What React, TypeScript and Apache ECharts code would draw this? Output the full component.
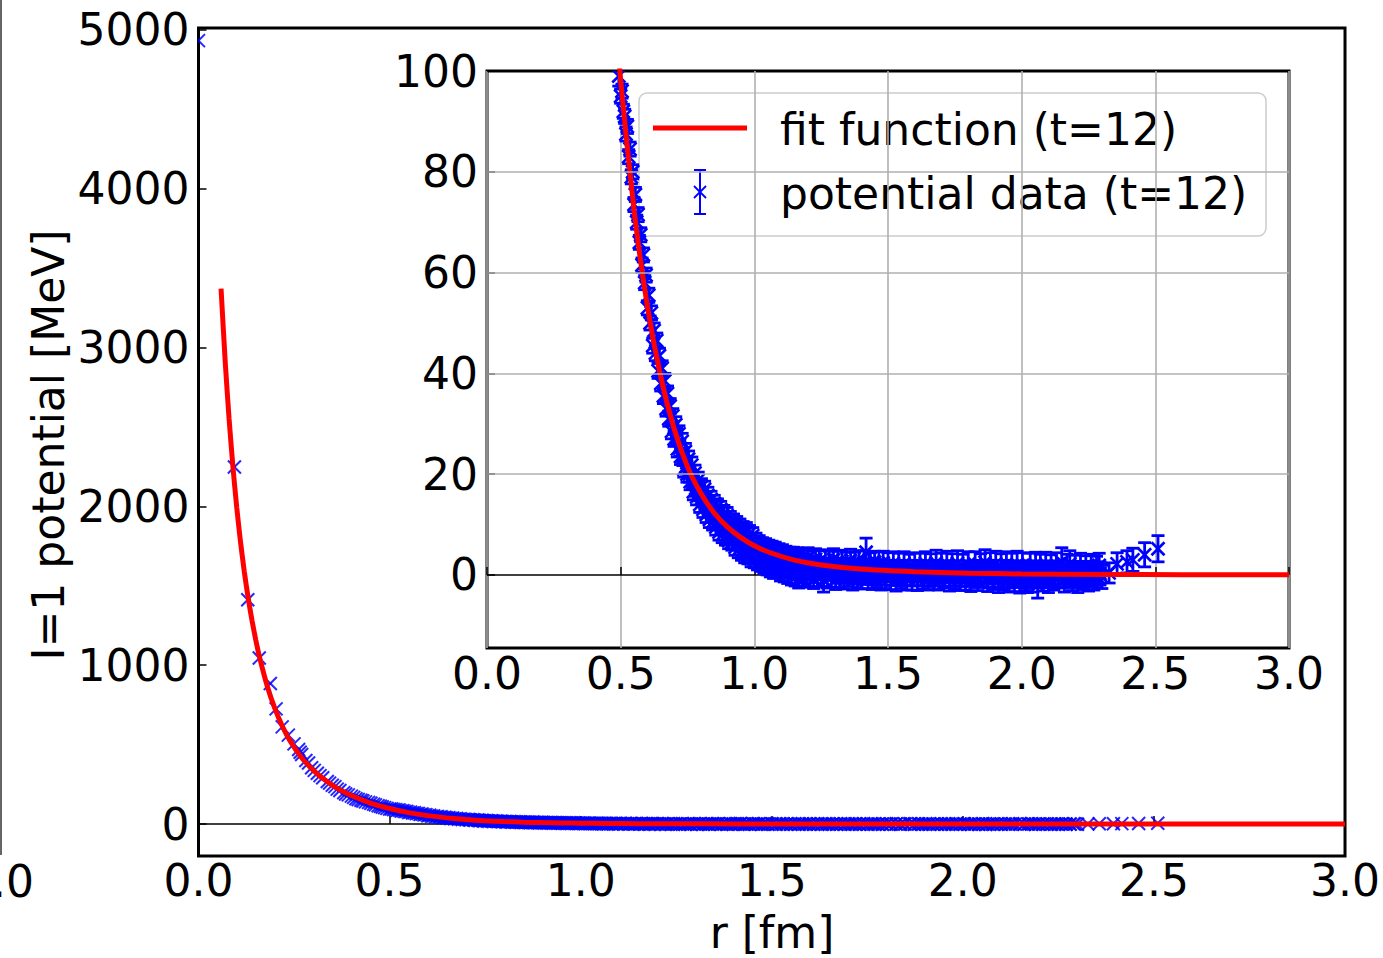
import React, { useEffect, useRef } from "react";
import * as echarts from "echarts";

// ---------- data ----------
// fit curve (r [fm], V [MeV])
const fitR = [0.059, 0.07, 0.08, 0.09, 0.1, 0.11, 0.12, 0.13, 0.14, 0.15, 0.16, 0.18, 0.2, 0.22, 0.24, 0.27, 0.3, 0.33, 0.36, 0.4, 0.45, 0.5, 0.55, 0.6, 0.65, 0.7, 0.75, 0.8, 0.85, 0.9, 0.95, 1.0, 1.06, 1.15, 1.25, 1.4, 1.6, 1.8, 2.0, 2.3, 2.6, 3.0];
const fitV = [3370, 2905, 2551, 2250, 1994, 1774, 1586, 1423, 1281, 1157, 1048, 868, 726, 613, 522, 418, 340, 279, 230, 179.5, 132.5, 98.1, 72.4, 53.3, 39.3, 29.0, 21.5, 16.2, 12.3, 9.5, 7.4, 5.8, 4.4, 2.95, 1.98, 1.16, 0.63, 0.35, 0.2, 0.1, 0.05, 0.02];

// potential data, short distances (mostly outside inset range)
const nearR = [0.0, 0.094, 0.129, 0.159, 0.188, 0.203, 0.219, 0.235, 0.25, 0.262, 0.266, 0.27, 0.281, 0.288, 0.296, 0.303, 0.311, 0.318, 0.325, 0.337, 0.343, 0.35, 0.357, 0.363, 0.37, 0.38, 0.385, 0.392, 0.4, 0.406, 0.412, 0.418, 0.425, 0.43, 0.437, 0.445, 0.451, 0.458, 0.463, 0.47, 0.476, 0.481, 0.487, 0.493];
const nearV = [4930, 2247, 1412, 1045, 885, 725, 612, 560, 505, 470, 452, 438, 400, 385, 355, 338, 320, 305, 292, 268, 258, 245, 236, 220, 212, 198, 190, 184, 176, 168, 160, 155, 150, 145, 140, 137, 131, 126, 121, 116, 112, 108, 104, 99];
const nearE = [20, 15, 10, 8, 6, 6, 5, 5, 4, 4, 4, 4, 3, 3, 3, 3, 3, 3, 3, 3, 3, 3, 3, 2, 2, 2, 2, 2, 2, 2, 2, 2, 2, 2, 2, 2, 2, 2, 2, 2, 2, 2, 2, 2];

// potential data, steep part 0.5 - 1.0 fm
const steepR = [0.5, 0.505, 0.51, 0.515, 0.52, 0.525, 0.53, 0.535, 0.54, 0.545, 0.55, 0.555, 0.56, 0.565, 0.57, 0.575, 0.58, 0.585, 0.59, 0.595, 0.6, 0.605, 0.61, 0.615, 0.62, 0.625, 0.63, 0.635, 0.64, 0.645, 0.65, 0.655, 0.66, 0.665, 0.67, 0.675, 0.68, 0.685, 0.69, 0.695, 0.7,
  0.706, 0.712, 0.718, 0.724, 0.73, 0.736, 0.742, 0.748, 0.754, 0.76, 0.766, 0.772, 0.778, 0.784, 0.79, 0.796, 0.802, 0.808, 0.814, 0.82, 0.826, 0.832, 0.838, 0.844, 0.85, 0.856, 0.862, 0.868, 0.874, 0.88, 0.886, 0.892, 0.898, 0.904, 0.91, 0.916, 0.922, 0.928, 0.934, 0.94, 0.946, 0.952, 0.958, 0.964, 0.97, 0.976, 0.982, 0.988, 0.994, 1.0];
const steepV = [95, 96, 92, 91, 87.5, 89, 83, 84.5, 79, 80, 73.5, 75.5, 70, 71.5, 66, 67.5, 61.5, 63.5, 58, 59.5, 53, 55.5, 50, 52, 45.5, 48.5, 44, 46.5, 40.5, 43.5, 38, 41, 35.5, 38.5, 33, 36, 31, 33.5, 28.5, 31.5, 27,
  29.8, 25, 28, 23.5, 26.5, 21, 24.5, 20, 23, 18.5, 21.8, 16.5, 20.2, 15.5, 18.8, 14, 17.5, 13, 17, 12, 15.8, 11, 15, 10.5, 14.2, 9.5, 13.5, 8.5, 13, 8, 12.2, 7.5, 11.8, 6.8, 11, 6.5, 10.5, 5.5, 10, 5, 9.5, 4.5, 9, 4, 8.8, 3.8, 8.2, 3.2, 7.8, 3];
const steepE = [1.4, 1.4, 1.4, 1.4, 1.4, 1.4, 1.4, 1.4, 1.4, 1.4, 1.4, 1.4, 1.4, 1.4, 1.4, 1.4, 1.4, 1.4, 1.4, 1.4, 1.4, 1.4, 1.4, 1.4, 1.5, 1.5, 1.5, 1.5, 1.5, 1.5, 1.5, 1.5, 1.5, 1.5, 1.5, 1.5, 1.5, 1.5, 1.5, 1.5, 1.5,
  1.6, 1.6, 1.6, 1.6, 1.6, 1.6, 1.6, 1.6, 1.6, 1.6, 1.6, 1.6, 1.6, 1.6, 1.6, 1.6, 1.6, 1.6, 1.6, 1.6, 1.6, 1.6, 1.6, 1.6, 1.6, 1.6, 1.6, 1.6, 1.6, 1.6, 1.6, 1.6, 1.6, 1.6, 1.6, 1.6, 1.6, 1.6, 1.6, 1.6, 1.6, 1.6, 1.6, 1.6, 1.6, 1.6, 1.6, 1.6, 1.6, 1.6];

// potential data, flat part 1.0 - 2.52 fm (upper/lower scatter)
const bandR = [1.006, 1.012, 1.018, 1.024, 1.03, 1.036, 1.042, 1.048, 1.054, 1.06, 1.066, 1.072, 1.078, 1.085, 1.092, 1.098, 1.105, 1.112, 1.118, 1.125, 1.132, 1.139, 1.146, 1.153, 1.16, 1.166, 1.173, 1.18, 1.187, 1.194, 1.201, 1.208, 1.215, 1.222, 1.229, 1.236, 1.243, 1.25, 1.259, 1.266, 1.273, 1.28, 1.288, 1.296, 1.304, 1.312, 1.32, 1.328, 1.336, 1.344, 1.352, 1.36, 1.368, 1.376, 1.384, 1.392, 1.4, 1.41, 1.418, 1.426, 1.434, 1.442, 1.45, 1.458, 1.466, 1.474, 1.482, 1.49, 1.5, 1.51, 1.52, 1.53, 1.54, 1.55, 1.56, 1.57, 1.58, 1.59, 1.6, 1.61, 1.62, 1.63, 1.64, 1.65, 1.66, 1.67, 1.68, 1.69, 1.7, 1.71, 1.72, 1.73, 1.74, 1.75, 1.76, 1.77, 1.78, 1.79, 1.8, 1.81, 1.826, 1.836, 1.846, 1.863, 1.873, 1.883, 1.893, 1.903, 1.913, 1.923, 1.933, 1.943, 1.953, 1.963, 1.973, 1.983, 1.993, 2.003, 2.013, 2.022, 2.032, 2.042, 2.052, 2.06, 2.07, 2.08, 2.09, 2.1, 2.11, 2.12, 2.13, 2.15, 2.16, 2.17, 2.18, 2.19, 2.2, 2.21, 2.22, 2.23, 2.24, 2.25, 2.26, 2.27, 2.28, 2.29, 2.3, 2.327, 2.357, 2.394, 2.416, 2.46, 2.51];
const bandV = [6.8, 2.5, 6.2, 2.2, 5.8, 1.8, 5.5, 1.5, 5.2, 1.2, 4.9, 0.9, 4.7, 0.8, 4.4, 0.5, 4.1, 0.3, 3.9, 0.1, 3.6, -0.2, 3.5, -0.3, 3.4, -0.8, 3.2, -0.6, 3.0, -0.5, 3.3, -0.4, 2.8, -0.7, 3.1, -0.5, 2.6, -0.3, -1.0, 2.9, -0.6, 2.5, -0.4, 3.0, -0.8, 2.4, -0.5, 2.7, -0.7, 2.3, -0.3, 2.8, -0.9, 2.2, -0.4, 2.6, -0.6, 2.4, 4.5, -0.5, 2.1, -0.8, 2.5, -0.3, 2.2, -0.9, 2.4, -0.5, 2.0, -0.7, 2.3, -1.0, 1.9, -0.4, 2.2, -0.8, 1.8, -0.6, 2.1, -0.9, 1.9, -0.5, 2.3, -0.8, 1.8, -0.6, 2.4, -0.7, 1.9, -0.4, 2.2, -0.9, 1.8, -0.5, 2.3, -0.8, 1.7, -0.6, 2.1, -1.0, 2.1, -0.7, 1.8, 2.5, -0.9, 1.9, -0.5, 2.2, -1.1, 1.7, -0.6, 2.0, -1.0, 1.8, -0.8, 2.1, -1.2, 1.9, -0.7, -1.2, 1.7, -0.9, 2.0, -2.0, 1.6, -0.8, 1.9, -1.0, 1.5, -0.6, 1.8, 2.6, -0.9, 1.6, 2.2, -0.7, 1.4, -1.0, 1.7, -0.5, 1.3, -0.8, 1.6, -0.6, 1.2, 1.9, -0.4, 0.4, 2.2, 2.6, 3.0, 4.0, 5.2];
const bandE = [1.5, 1.5, 1.6, 1.5, 1.6, 1.5, 1.7, 1.5, 1.7, 1.6, 1.8, 1.6, 1.8, 1.4, 1.8, 1.7, 1.9, 1.7, 1.8, 1.8, 1.9, 1.8, 2.0, 1.9, 2.0, 1.8, 2.0, 1.8, 2.0, 1.9, 2.1, 1.9, 2.0, 2.0, 2.1, 1.9, 2.2, 2.0, 2.4, 2.1, 2.0, 2.2, 2.0, 2.2, 2.1, 2.3, 2.0, 2.2, 2.1, 2.2, 2.0, 2.3, 2.1, 2.3, 2.1, 2.2, 2.2, 2.4, 2.8, 2.2, 2.3, 2.1, 2.2, 2.2, 2.4, 2.1, 2.3, 2.2, 2.4, 2.2, 2.3, 2.2, 2.4, 2.3, 2.4, 2.2, 2.3, 2.4, 2.3, 2.2, 2.4, 2.3, 2.3, 2.2, 2.4, 2.3, 2.5, 2.3, 2.4, 2.2, 2.5, 2.3, 2.4, 2.3, 2.5, 2.3, 2.4, 2.4, 2.5, 2.3, 2.5, 2.4, 2.4, 2.5, 2.4, 2.5, 2.4, 2.5, 2.4, 2.5, 2.4, 2.6, 2.4, 2.5, 2.5, 2.6, 2.4, 2.5, 2.4, 2.3, 2.6, 2.5, 2.5, 2.6, 2.5, 2.4, 2.6, 2.5, 2.5, 2.4, 2.6, 2.8, 2.5, 2.5, 2.6, 2.4, 2.5, 2.5, 2.6, 2.4, 2.5, 2.4, 2.5, 2.4, 2.5, 2.4, 2.3, 2.0, 2.2, 2.2, 2.3, 2.4, 2.6];

// potential data, flat part (points close to the fit)
const midR = [0.709, 0.721, 0.733, 0.745, 0.757, 0.769, 0.781, 0.793, 0.805, 0.817, 0.829, 0.841, 0.853, 0.865, 0.877, 0.889, 0.901, 0.913, 0.925, 0.937, 0.949, 0.961, 0.973, 0.985, 0.997,
  1.009, 1.021, 1.033, 1.045, 1.057, 1.069, 1.081, 1.093, 1.105, 1.117, 1.129, 1.141, 1.153, 1.165, 1.177, 1.189, 1.201, 1.213, 1.225, 1.237, 1.249, 1.261, 1.273, 1.285, 1.297, 1.309, 1.321, 1.333, 1.345, 1.357, 1.369, 1.381, 1.393, 1.405, 1.417, 1.429, 1.441, 1.453, 1.465, 1.477, 1.489, 1.501, 1.513, 1.525, 1.537, 1.549, 1.561, 1.573, 1.585, 1.597, 1.609, 1.621, 1.633, 1.645, 1.657, 1.669, 1.681, 1.693, 1.705, 1.717, 1.729, 1.741, 1.753, 1.765, 1.777, 1.789, 1.801, 1.813, 1.825, 1.837, 1.849, 1.861, 1.873, 1.885, 1.897, 1.909, 1.921, 1.933, 1.945, 1.957, 1.969, 1.981, 1.993, 2.005, 2.017, 2.029, 2.041, 2.053, 2.065, 2.077, 2.089, 2.101, 2.113, 2.125, 2.137, 2.149, 2.161, 2.173, 2.185, 2.197, 2.209, 2.221, 2.233, 2.245, 2.257, 2.269, 2.281, 2.293];
const midV = [27.5, 25.2, 23.3, 21.6, 20.0, 18.6, 17.2, 16.3, 15.2, 14.3, 13.2, 12.6, 11.9, 11.2, 10.4, 9.9, 9.2, 8.8, 8.2, 7.7, 7.3, 7.0, 6.5, 6.2, 5.7,
  5.3, 5.2, 4.7, 4.6, 4.2, 4.0, 3.6, 3.5, 3.1, 3.0, 2.6, 2.7, 2.2, 2.3, 1.9, 2.0, 1.6, 1.8, 1.3, 1.6, 1.1, 1.4, 0.9, 1.3, 0.8, 1.2, 0.6, 1.1, 0.5, 1.0, 0.4, 1.0, 0.3, 0.9, 0.2, 0.9, 0.2, 0.8, 0.1, 0.9, 0.1, 0.8, 0.0, 0.8, 0.1, 0.7, -0.1, 0.8, 0.0, 0.7, -0.1, 0.8, 0.0, 0.6, -0.2, 0.7, 0.0, 0.6, -0.1, 0.7, -0.2, 0.6, 0.0, 0.7, -0.2, 0.6, -0.1, 0.5, -0.2, 0.6, 0.0, 0.5, -0.3, 0.6, -0.1, 0.5, -0.2, 0.6, -0.3, 0.5, -0.1, 0.4, -0.2, 0.5, -0.3, 0.4, -0.1, 0.5, -0.3, 0.4, -0.2, 0.5, -0.1, 0.4, -0.3, 0.5, -0.1, 0.4, -0.2, 0.3, -0.1, 0.4, -0.2, 0.3, 0.0, 0.4, -0.2, 0.3];
const midE = [1.6, 1.6, 1.6, 1.6, 1.6, 1.6, 1.6, 1.6, 1.6, 1.6, 1.6, 1.6, 1.6, 1.6, 1.6, 1.6, 1.6, 1.6, 1.6, 1.6, 1.6, 1.6, 1.6, 1.6, 1.6,
  1.8, 1.8, 1.8, 1.8, 1.8, 1.8, 1.8, 1.8, 1.8, 1.8, 1.8, 1.8, 1.8, 1.8, 1.8, 1.8, 1.8, 1.8, 1.8, 1.8, 1.8, 1.8, 1.8, 1.8, 1.8, 2.1, 2.1, 2.1, 2.1, 2.1, 2.1, 2.1, 2.1, 2.1, 2.1, 2.1, 2.1, 2.1, 2.1, 2.1, 2.1, 2.1, 2.1, 2.1, 2.1, 2.1, 2.1, 2.1, 2.1, 2.1, 2.1, 2.1, 2.1, 2.1, 2.1, 2.1, 2.1, 2.1, 2.1, 2.1, 2.1, 2.1, 2.1, 2.1, 2.1, 2.1, 2.1, 2.3, 2.3, 2.3, 2.3, 2.3, 2.3, 2.3, 2.3, 2.3, 2.3, 2.3, 2.3, 2.3, 2.3, 2.3, 2.3, 2.3, 2.3, 2.3, 2.3, 2.3, 2.3, 2.3, 2.3, 2.3, 2.3, 2.3, 2.3, 2.3, 2.3, 2.3, 2.3, 2.3, 2.3, 2.3, 2.3, 2.3, 2.3, 2.3, 2.3, 2.3, 2.3];

// axes / ticks
const xTickStep = 0.5;
const mainYTicks = [0, 1000, 2000, 3000, 4000, 5000];
const insetYTicks = [0, 20, 40, 60, 80, 100];
const insetGridY = [20, 40, 60, 80];
const zeroLineR = [0, 3];

const FONT = "DejaVu Sans";

function buildData(): number[][] {
  const out: number[][] = [];
  const push = (R: number[], V: number[], E: number[]) => {
    for (let i = 0; i < R.length; i++) out.push([R[i], V[i], E[i] ?? 2]);
  };
  push(nearR, nearV, nearE);
  push(steepR, steepV, steepE);
  push(midR, midV, midE);
  push(bandR, bandV, bandE);
  return out;
}

function makeRender(withErr: boolean, s: number, color: string, opacity: number, lw: number) {
  return (_params: any, api: any) => {
    const r = api.value(0);
    const v = api.value(1);
    const p = api.coord([r, v]);
    const style = { stroke: color, lineWidth: lw, opacity };
    const children: any[] = [
      { type: "line", shape: { x1: p[0] - s, y1: p[1] - s, x2: p[0] + s, y2: p[1] + s }, style },
      { type: "line", shape: { x1: p[0] - s, y1: p[1] + s, x2: p[0] + s, y2: p[1] - s }, style },
    ];
    if (withErr) {
      const e = api.value(2);
      const t = api.coord([r, v + e]);
      const b = api.coord([r, v - e]);
      const es = { stroke: color, lineWidth: 2.8, opacity };
      const c = 6.5;
      children.push({ type: "line", shape: { x1: p[0], y1: t[1], x2: p[0], y2: b[1] }, style: es });
      children.push({ type: "line", shape: { x1: p[0] - c, y1: t[1], x2: p[0] + c, y2: t[1] }, style: es });
      children.push({ type: "line", shape: { x1: p[0] - c, y1: b[1], x2: p[0] + c, y2: b[1] }, style: es });
    }
    return { type: "group", children };
  };
}

export default function App() {
  const ref = useRef<HTMLDivElement>(null);

  useEffect(() => {
    if (!ref.current) return;
    const chart = echarts.init(ref.current, undefined, { renderer: "svg" });
    const data = buildData();
    const fitData = fitR.map((r, i) => [r, fitV[i]]);
    const zeroData = zeroLineR.map((r) => [r, 0]);

    const labelStyle = { fontSize: 44, fontFamily: FONT, color: "#000" };
    const tickStyle = { color: "#000", width: 1.5 };

    const xAxisBase = (gridIndex: number, split: boolean) => ({
      gridIndex,
      type: "value",
      min: 0,
      max: 3,
      interval: xTickStep,
      axisLine: { show: false },
      axisTick: { show: true, inside: true, length: 8, lineStyle: tickStyle },
      axisLabel: { ...labelStyle, margin: 3, formatter: (v: number) => v.toFixed(1) },
      splitLine: { show: split, lineStyle: { color: "#b0b0b0", width: 1.6 } },
    });

    chart.setOption({
      animation: false,
      backgroundColor: "#fff",
      grid: [
        { left: 198.5, top: 27.9, width: 1147, height: 828, show: true, borderColor: "#000", borderWidth: 3, backgroundColor: "transparent", containLabel: false },
        { left: 487, top: 71, width: 802, height: 577, show: true, borderColor: "#000", borderWidth: 3, backgroundColor: "#fff", containLabel: false },
      ],
      xAxis: [xAxisBase(0, false), xAxisBase(1, true)],
      yAxis: [
        {
          gridIndex: 0,
          type: "value",
          min: -200,
          max: 5010,
          axisLine: { show: false },
          axisTick: { show: true, inside: true, length: 8, lineStyle: tickStyle, customValues: mainYTicks },
          axisLabel: { ...labelStyle, margin: 9, customValues: mainYTicks, formatter: (v: number) => String(v) },
          splitLine: { show: false },
        },
        {
          gridIndex: 1,
          type: "value",
          min: -14.5,
          max: 100,
          axisLine: { show: false },
          axisTick: { show: true, inside: true, length: 8, lineStyle: tickStyle, customValues: insetYTicks },
          axisLabel: { ...labelStyle, margin: 9, customValues: insetYTicks, formatter: (v: number) => String(v) },
          splitLine: { show: false },
        },
      ],
      series: [
        // main plot
        {
          type: "line", xAxisIndex: 0, yAxisIndex: 0, data: zeroData, symbol: "none", z: 1, silent: true,
          lineStyle: { color: "#000", width: 1.5 },
        },
        {
          type: "custom", xAxisIndex: 0, yAxisIndex: 0, data, clip: true, z: 2, silent: true,
          renderItem: makeRender(false, 6.5, "#0000ff", 0.85, 2),
        },
        {
          type: "line", xAxisIndex: 0, yAxisIndex: 0, data: fitData, symbol: "none", z: 3, silent: true,
          smooth: 0.2, clip: true,
          lineStyle: { color: "#ff0000", width: 5 },
        },
        // inset
        {
          type: "line", xAxisIndex: 1, yAxisIndex: 1, data: zeroData, symbol: "none", z: 1, silent: true,
          lineStyle: { color: "#000", width: 1.5 },
          markLine: {
            silent: true, symbol: "none", label: { show: false },
            lineStyle: { color: "#b0b0b0", width: 1.6, type: "solid" },
            data: insetGridY.map((v) => ({ yAxis: v })),
          },
        },
        {
          type: "custom", xAxisIndex: 1, yAxisIndex: 1, data, clip: true, z: 2, silent: true,
          renderItem: makeRender(true, 6.5, "#0000ff", 1, 2.6),
        },
        {
          type: "line", xAxisIndex: 1, yAxisIndex: 1, data: fitData, symbol: "none", z: 3, silent: true,
          smooth: 0.2, clip: true,
          lineStyle: { color: "#ff0000", width: 5 },
        },
      ],
      graphic: [
        // legend of the inset
        {
          type: "group", z: 100,
          children: [
            { type: "rect", shape: { x: 639, y: 93, width: 627, height: 143, r: 8 }, style: { fill: "rgba(255,255,255,0.8)", stroke: "#cccccc", lineWidth: 1.5 } },
            { type: "line", shape: { x1: 653, y1: 128, x2: 747, y2: 128 }, style: { stroke: "#ff0000", lineWidth: 5 } },
            { type: "line", shape: { x1: 700, y1: 170, x2: 700, y2: 214 }, style: { stroke: "#0000ff", lineWidth: 2 } },
            { type: "line", shape: { x1: 694, y1: 170, x2: 706, y2: 170 }, style: { stroke: "#0000ff", lineWidth: 2 } },
            { type: "line", shape: { x1: 694, y1: 214, x2: 706, y2: 214 }, style: { stroke: "#0000ff", lineWidth: 2 } },
            { type: "line", shape: { x1: 694, y1: 186, x2: 706, y2: 198 }, style: { stroke: "#0000ff", lineWidth: 1.8 } },
            { type: "line", shape: { x1: 694, y1: 198, x2: 706, y2: 186 }, style: { stroke: "#0000ff", lineWidth: 1.8 } },
            { type: "text", x: 780, y: 129, style: { text: "fit function (t=12)", font: `44px "${FONT}"`, fill: "#000", textAlign: "left", textVerticalAlign: "middle" } },
            { type: "text", x: 780, y: 193, style: { text: "potential data (t=12)", font: `44px "${FONT}"`, fill: "#000", textAlign: "left", textVerticalAlign: "middle" } },
          ],
        },
        // axis titles
        { type: "text", x: 772, y: 932, z: 50, style: { text: "r [fm]", font: `44px "${FONT}"`, fill: "#000", textAlign: "center", textVerticalAlign: "middle" } },
        { type: "text", x: 48, y: 445, rotation: Math.PI / 2, z: 50, style: { text: "I=1 potential [MeV]", font: `44px "${FONT}"`, fill: "#000", textAlign: "center", textVerticalAlign: "middle" } },
        // remnant of the neighbouring panel at the left edge
        { type: "line", z: 50, shape: { x1: 1, y1: 0, x2: 1, y2: 855 }, style: { stroke: "#666", lineWidth: 2 } },
        { type: "text", x: 34, y: 881, z: 50, style: { text: ".0", font: `44px "${FONT}"`, fill: "#000", textAlign: "right", textVerticalAlign: "middle" } },
      ],
    });
    return () => chart.dispose();
  }, []);

  return (
    <div
      ref={ref}
      style={{ position: "fixed", left: 0, top: 0, width: 1383, height: 958, background: "#fff" }}
    />
  );
}
